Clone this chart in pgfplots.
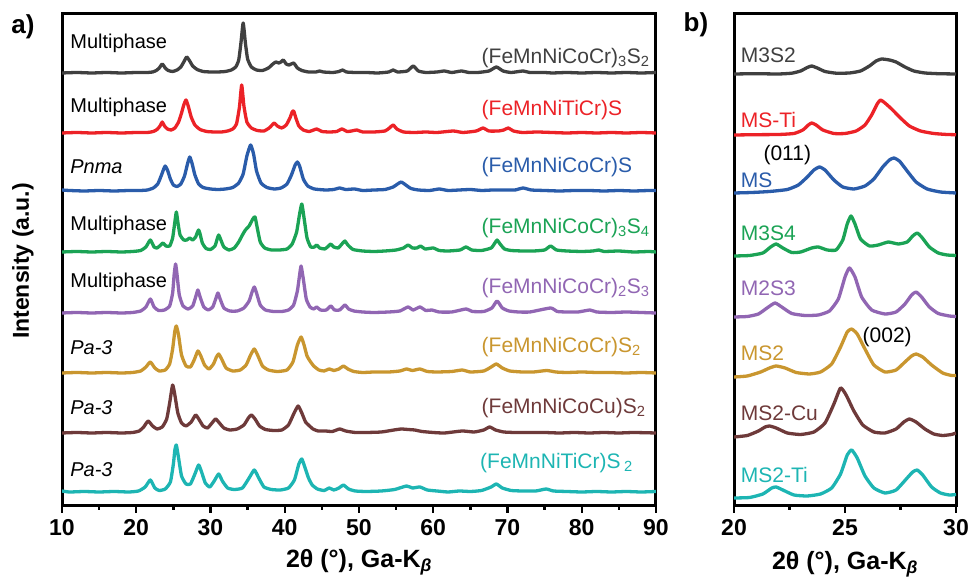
\documentclass[border=0pt]{standalone}
\usepackage{fontspec}
\setmainfont{Liberation Sans}
\usepackage{pgfplots}
\pgfplotsset{compat=1.18}
\newcommand\fs[1]{\fontsize{#1}{#1}\selectfont}

\definecolor{cblack}{HTML}{404040}
\definecolor{cred}{HTML}{EC2227}
\definecolor{cblue}{HTML}{2A5CAA}
\definecolor{cgreen}{HTML}{1BA355}
\definecolor{cpurple}{HTML}{9166B3}
\definecolor{cgold}{HTML}{C9962F}
\definecolor{cbrown}{HTML}{6E3A3A}
\definecolor{ccyan}{HTML}{1DB5B3}

\pgfplotsset{
  xrd/.style={
    scale only axis, height=492pt,
    ymin=0, ymax=492, ytick=\empty,
    xtick pos=bottom, tick align=outside,
    major tick length=7pt, minor tick length=4pt,
    tick style={line width=2.4pt, black},
    axis line style={line width=3pt},
    xticklabel style={font=\bfseries\fs{23}, yshift=-3pt},
    /pgf/number format/assume math mode=true,
    every axis plot/.append style={line width=3.3pt, line join=round, smooth, tension=0.3, mark=none},
  },
}
\tikzset{
  lbl/.style={font=\fs{20}, anchor=west, inner sep=0pt},
  rlbl/.style={font=\fs{21}, anchor=west, inner sep=0pt},
}

\begin{document}
\begin{tikzpicture}
\useasboundingbox (-62pt,-74pt) rectangle (908pt,506pt);

% ---- panel a
\begin{axis}[xrd, width=594pt, xmin=10, xmax=90,
  xtick={10,20,...,90}, minor xtick={15,25,...,85}]
\addplot[cblack] coordinates {(10,433) (12,433.5) (14,433) (16,433.5) (18,433) (20,433.5) (21.5,433.5) (22.2,434) (22.7,435.5) (23.1,438) (23.5,442) (23.9,438) (24.3,435.5) (24.9,434.5) (25.5,436) (26,439) (26.4,444) (26.8,449) (27.2,445) (27.6,440) (28.2,436.5) (29,434.5) (30,434) (31,434) (32,434.5) (32.8,436) (33.4,439) (33.8,446) (34.1,463) (34.4,483) (34.7,463) (35,447) (35.5,439) (36.2,436) (37,435.5) (37.8,438) (38.4,442) (38.8,444) (39.2,443) (39.5,444) (39.8,446) (40.2,442) (40.6,441) (41.2,443) (41.7,438) (42.3,435.5) (43.2,434) (44.2,434) (44.7,435) (45.2,434) (46.5,433.5) (47.3,434.5) (47.8,436) (48.3,434) (49.5,433.5) (51,433.5) (52.5,433) (54,434) (54.6,436) (55.2,434) (56.5,435) (57.3,440) (58,435) (59,433.5) (60.5,434) (61.5,435) (62.5,433.5) (63.8,435) (64.8,433.5) (66,433.5) (67.5,435) (68.5,439) (69.4,435) (70.5,433.5) (72.1,435) (73,433.5) (75,433.5) (76,433) (78,433.5) (80,433) (82,433.5) (84,433) (86,433.5) (88,433) (90,433.5)};
\addplot[cred] coordinates {(10,373) (12,373.5) (14,373) (16,373.5) (18,373) (20,373.5) (21.5,373.5) (22.3,374.5) (22.8,376.5) (23.2,380) (23.5,384) (23.8,380) (24.2,377) (24.7,376) (25.2,378) (25.7,384) (26.1,393) (26.4,401) (26.7,406) (27,400) (27.4,389) (27.9,381) (28.6,376.5) (29.5,374.5) (30.5,374) (31.5,374) (32.3,375) (33,377) (33.5,382) (33.9,399) (34.2,421) (34.5,400) (34.9,384) (35.5,378) (36.3,375.5) (37.2,375) (37.9,378) (38.3,381) (38.6,383) (39,380) (39.6,378) (40.2,381) (40.7,388) (41,394) (41.2,395) (41.5,388) (41.9,380) (42.5,376) (43.3,374.5) (44.3,377) (45,374.5) (46,374) (47,374.5) (47.7,377) (48.4,374.5) (49,375) (49.7,376) (50.5,374) (52,374) (53.5,375) (54.1,378) (54.6,381) (55.1,377) (56,374) (57.5,373.5) (59,374) (60.5,373.5) (62.7,375) (64,373.5) (65.8,375) (66.7,378) (67.5,375) (68.8,375) (69.5,376) (70.1,378) (70.8,375) (72,373.5) (74,374) (76,373.5) (78,373) (80,373.5) (82,373) (84,373.5) (86,373) (88,373.5) (90,373)};
\addplot[cblue] coordinates {(10,316) (11,315.5) (13,315) (15,315.5) (17,315) (19,315.5) (20.5,315.5) (21.5,316) (22.3,318) (22.9,322) (23.4,331) (23.7,337) (23.9,340) (24.2,336) (24.6,327) (25,321) (25.5,319.5) (26,322) (26.5,330) (26.9,342) (27.2,349) (27.5,343) (27.9,331) (28.4,322) (29,318.5) (30,317) (31,316.5) (32,317) (33,318.5) (33.8,323) (34.4,332) (34.9,350) (35.4,361) (35.8,352) (36.2,335) (36.8,323) (37.6,318.5) (38.6,317) (39.5,318) (40.3,322) (40.9,331) (41.4,341) (41.7,344) (42,340) (42.5,327) (43.1,320) (44,317) (45.5,316) (46.6,316.5) (47.4,318) (48.2,316.5) (49.4,317) (50.5,315.5) (52,316) (53.5,316.5) (54.6,319) (55.2,322) (55.7,324) (56.3,321) (57,317.5) (58,316) (59.5,315.5) (60.8,317) (62,315.5) (63.5,316) (65,316.5) (66.5,315.5) (68,316) (69.5,316) (71,316) (72.1,318) (73.2,316) (75,315.5) (77,315) (79,315.5) (81,315.5) (83,315) (85,315.5) (87,315) (89,315.5) (90,315.5)};
\addplot[cgreen] coordinates {(10,254) (12,254.5) (14,254) (16,254.5) (18,254) (19.5,254.5) (20.6,255.5) (21.3,259) (21.9,266) (22.4,259) (22.8,258) (23.3,261) (23.6,263) (24,260) (24.5,260) (24.9,268) (25.2,284) (25.4,294) (25.6,284) (25.9,271) (26.4,266) (26.8,266) (27.2,268) (27.6,266) (28,269) (28.2,273) (28.4,276) (28.6,272) (28.9,263) (29.4,257.5) (30,256.5) (30.6,260) (30.9,267) (31.1,271) (31.4,266) (31.8,259) (32.5,256) (33.2,258) (33.8,264) (34.3,271) (34.7,276) (35.2,280) (35.7,287) (36,289) (36.3,278) (36.7,264) (37.3,258) (38.2,256) (39.3,256) (40.3,257) (41,262) (41.6,274) (42,292) (42.3,302) (42.6,288) (43,268) (43.5,259) (44,259) (44.3,261) (44.7,258) (45.4,257) (45.9,260) (46.2,262) (46.6,259) (47.2,258) (47.7,262) (48.1,265) (48.5,261) (49.2,256.5) (50.5,255) (52,254.5) (53.5,255) (55,256) (56,258) (56.6,261) (57.2,258) (57.8,258) (58.3,260) (58.9,257) (60,258) (60.8,255.5) (62,255) (63.6,256) (64.4,259) (65.2,256) (66.5,255.5) (67.8,258) (68.3,263) (68.6,266) (69,262) (69.6,257) (70.5,255.5) (72,255) (73.5,255) (75,256) (75.8,260) (76.6,256) (78,255) (80,254.5) (81.5,255) (82.3,256) (83,254.5) (85,255) (87,254) (89,254.5) (90,254)};
\addplot[cpurple] coordinates {(10,193) (12,193.5) (14,193) (16,193.5) (18,193) (19.5,193.5) (20.6,195) (21.3,199) (21.9,207) (22.4,199) (23,195.5) (23.8,196) (24.5,200) (24.9,213) (25.1,231) (25.3,242) (25.5,231) (25.8,211) (26.3,200) (27,197) (27.6,200) (28,209) (28.3,216) (28.6,209) (29.1,199) (29.7,196) (30.3,199) (30.7,207) (31,213) (31.3,207) (31.8,198) (32.6,195) (33.6,195) (34.5,198) (35.2,205) (35.6,214) (35.9,219) (36.2,213) (36.7,201) (37.4,196) (38.5,194.5) (39.6,194.5) (40.5,196) (41.2,201) (41.7,215) (42,231) (42.2,240) (42.5,227) (42.9,207) (43.4,199) (43.9,197) (44.3,199) (44.8,196) (45.6,196) (46.2,200) (46.7,196) (47.4,196) (48.1,201) (48.6,197) (49.3,195) (50.5,194) (52,193.5) (54,194) (55.5,195) (56.6,199) (57.3,196) (58.2,199) (59,195.5) (59.8,196) (60.8,194) (62.5,194) (64.4,197) (65.3,194.5) (66.8,194.5) (67.9,198) (68.6,205) (69.3,198) (70.2,195) (71.5,194) (73,194) (75.8,198) (76.7,194.5) (78,194) (79.5,194) (81.1,196) (82,194) (84,193.5) (86,194) (88,193.5) (90,193)};
\addplot[cgold] coordinates {(10,133) (12,133.5) (14,133) (16,133.5) (18,133) (19.5,133.5) (20.6,135) (21.3,139) (21.9,144) (22.5,138) (23.1,135) (23.9,136) (24.5,142) (24.9,157) (25.2,175) (25.4,180) (25.7,171) (26.1,151) (26.7,140) (27.3,139) (27.8,146) (28.3,155) (28.7,150) (29.2,141) (29.8,137) (30.4,142) (30.8,149) (31.1,152) (31.5,147) (32.1,138) (33,135) (34,136) (34.8,141) (35.4,151) (35.9,157) (36.4,150) (37,140) (37.8,136) (39,134.5) (40.3,136) (41.1,144) (41.7,161) (42.2,169) (42.6,161) (43,150) (43.4,145) (43.9,140) (44.6,136) (45.3,135) (46,137) (46.6,135.5) (47.3,137) (47.9,140) (48.5,137) (49.3,134.5) (50.5,133.5) (52,134) (54,134) (55.5,135) (56.4,137) (57.2,135.5) (58.2,137) (59.2,134.5) (60.5,134) (62.5,134.5) (63.9,136) (65,134) (66.8,135) (67.8,139) (68.5,142) (69.3,138) (70.3,135) (72,134) (73.5,134) (75.3,135.5) (76.5,134) (78,133.5) (80,134) (82,133.5) (84,133.5) (86,133) (88,133.5) (90,133)};
\addplot[cbrown] coordinates {(10,73) (12,73.5) (14,73) (16,73.5) (18,73) (19.5,73.5) (20.4,75) (21,79) (21.6,85) (22.2,80) (22.8,77) (23.5,79) (24.1,87) (24.5,103) (24.9,121) (25.2,111) (25.6,93) (26.1,83) (26.7,80) (27.4,84) (28,91) (28.5,86) (29,80) (29.6,78) (30.2,83) (30.7,87) (31.2,83) (31.8,78) (32.6,76) (33.6,77) (34.5,81) (35.1,88) (35.5,91) (36,87) (36.6,80) (37.4,76.5) (38.5,75.5) (39.6,76) (40.5,81) (41.2,92) (41.8,100) (42.3,93) (42.8,84) (43.2,81) (43.8,77) (44.5,75) (45.5,75) (46.4,74.5) (47.4,77) (48.2,75) (49.5,73.5) (51,73.5) (53,74) (54.7,76) (55.7,77) (56.6,76.5) (57.5,76) (58.5,74.5) (60,73.5) (61.5,73) (63.9,75) (65.5,74) (66.8,76) (67.6,79) (68.4,76) (69.5,74) (71,73.5) (73,73.5) (75,73.5) (77,73) (79,73.5) (81,73) (83,73.5) (85,73) (87,73.5) (90,73)};
\addplot[ccyan] coordinates {(10,15) (11,14) (13,14.5) (15,14) (17,14.5) (19,14) (20.3,15) (21.2,19) (21.9,26) (22.5,18) (23.1,15.5) (23.9,17) (24.6,24) (25,42) (25.2,56) (25.4,61) (25.7,48) (26.1,30) (26.7,22) (27.3,22) (27.9,32) (28.4,41) (28.8,34) (29.3,23) (29.9,19) (30.5,25) (31.1,32) (31.6,25) (32.3,18) (33.2,16.5) (34.3,18) (35.2,28) (35.9,36) (36.5,28) (37.2,19) (38.2,16.5) (39.4,16) (40.5,18) (41.3,26) (41.9,42) (42.3,47) (42.7,39) (43.2,28) (43.7,21) (44.4,17) (45.3,15.5) (46,18) (46.6,16) (47.3,18) (47.9,21) (48.6,17) (49.5,15) (51,14.5) (53,15) (54.8,16.5) (56.4,20) (57.2,18) (58.2,19) (59.2,16) (60.5,15) (62,14) (63.5,15) (65,14.5) (66.5,15.5) (67.8,19) (68.5,22) (69.3,18) (70.5,15.5) (72,15) (73.8,15) (75.2,17) (76.2,15) (78,14.5) (80,14) (82,14.5) (84,14) (86,14.5) (88,14) (90,14.5)};

\node[lbl] at (axis cs:11.1,463) {Multiphase};
\node[lbl] at (axis cs:11.1,399) {Multiphase};
\node[lbl] at (axis cs:11.1,339) {\itshape Pnma};
\node[lbl] at (axis cs:11.1,281) {Multiphase};
\node[lbl] at (axis cs:11.1,224) {Multiphase};
\node[lbl] at (axis cs:11.1,158) {\itshape Pa-3};
\node[lbl] at (axis cs:11.1,98) {\itshape Pa-3};
\node[lbl] at (axis cs:11.1,36) {\itshape Pa-3};

\node[rlbl, text=cblack] at (axis cs:66.5,448) {(FeMnNiCoCr)\textsubscript{3}S\textsubscript{2}};
\node[rlbl, text=cred] at (axis cs:66.5,396) {(FeMnNiTiCr)S};
\node[rlbl, text=cblue] at (axis cs:66.5,339) {(FeMnNiCoCr)S};
\node[rlbl, text=cgreen] at (axis cs:66.5,278) {(FeMnNiCoCr)\textsubscript{3}S\textsubscript{4}};
\node[rlbl, text=cpurple] at (axis cs:66.5,218) {(FeMnNiCoCr)\textsubscript{2}S\textsubscript{3}};
\node[rlbl, text=cgold] at (axis cs:66.5,159) {(FeMnNiCoCr)S\textsubscript{2}};
\node[rlbl, text=cbrown] at (axis cs:66.5,98) {(FeMnNiCoCu)S\textsubscript{2}};
\node[rlbl, text=ccyan] at (axis cs:66.3,43) {(FeMnNiTiCr)S\,\textsubscript{2}};
\end{axis}

% ---- panel b
\begin{axis}[xrd, width=222pt, at={(672pt,0pt)}, anchor=south west,
  xmin=20, xmax=30, xtick={20,25,30}, minor xtick={22.5,27.5}]
\addplot[cblack] coordinates {(20,432) (21,432.3) (22,432) (22.6,432.8) (23,435) (23.3,438.5) (23.5,440) (23.75,438) (24.1,434.5) (24.6,432.8) (25.2,433) (25.7,435) (26.1,440) (26.4,445) (26.65,447) (27,446) (27.3,444) (27.7,439) (28.1,435) (28.6,433) (29.2,432.3) (30,432)};
\addplot[cred] coordinates {(20,371) (21,371.3) (22,371.5) (22.7,372.5) (23.1,376) (23.35,381) (23.5,383) (23.7,381) (24,376) (24.5,372.5) (25,372.5) (25.5,375) (25.9,381) (26.2,391) (26.45,402) (26.6,406) (26.8,403) (27.1,397) (27.5,388) (27.9,380) (28.4,375) (29,372.5) (29.6,371.5) (30,371.3)};
\addplot[cblue] coordinates {(20,313) (20.8,313.5) (21.6,314.5) (22.4,316.5) (22.9,321) (23.3,329) (23.6,336) (23.85,339) (24.1,336) (24.5,326) (24.9,319) (25.4,317) (25.9,320) (26.3,327) (26.7,339) (27,346) (27.2,348) (27.45,345) (27.8,335) (28.2,324) (28.7,317) (29.3,314) (30,313)};
\addplot[cgreen] coordinates {(20,250) (20.7,250.5) (21.3,253) (21.65,259) (21.9,262) (22.2,258) (22.6,253.5) (23,254) (23.5,258) (23.8,259) (24.2,256) (24.6,256) (24.9,266) (25.1,282) (25.27,290) (25.45,282) (25.7,267) (26.1,260) (26.5,261) (26.95,264) (27.4,262) (27.8,264) (28.05,270) (28.25,273) (28.45,269) (28.8,259) (29.2,253) (29.6,251) (30,250.5)};
\addplot[cpurple] coordinates {(20,189) (20.6,189.5) (21.1,192) (21.55,199) (21.85,203) (22.15,199) (22.6,192.5) (23.2,190.5) (23.8,191) (24.3,195) (24.7,207) (25,229) (25.2,238) (25.45,229) (25.75,209) (26.2,196) (26.8,192) (27.3,194) (27.7,202) (28,211) (28.2,214) (28.45,209) (28.8,199) (29.2,192.5) (29.7,190) (30,189.5)};
\addplot[cgold] coordinates {(20,129) (20.6,130) (21.2,134) (21.6,138) (21.9,140) (22.3,138) (22.8,133.5) (23.4,132) (23.9,134) (24.4,142) (24.8,159) (25.1,174) (25.3,177) (25.55,172) (25.9,157) (26.3,141) (26.8,134) (27.3,136) (27.7,144) (28,150) (28.2,152) (28.5,149) (28.9,141) (29.4,133) (29.8,130.5) (30,130.5)};
\addplot[cbrown] coordinates {(20,69) (20.6,70.5) (21.1,75) (21.4,79) (21.6,80) (21.9,78) (22.4,73) (23,71.5) (23.6,74) (24.1,83) (24.5,102) (24.8,118) (25.05,111) (25.4,95) (25.8,81) (26.3,74) (26.8,73) (27.3,77) (27.65,84) (27.9,87) (28.2,84) (28.6,77) (29,72) (29.4,70.5) (29.8,71.5) (30,73)};
\addplot[ccyan] coordinates {(20,8) (20.7,8.5) (21.3,12) (21.7,18) (21.9,19) (22.2,16) (22.7,11) (23.3,10) (23.9,12) (24.4,18) (24.8,32) (25.1,51) (25.3,56) (25.55,48) (25.9,30) (26.3,18) (26.8,13) (27.3,16) (27.8,28) (28.05,34) (28.25,36) (28.5,31) (28.9,19) (29.3,13) (29.7,11) (30,11.5)};

\node[rlbl, text=cblack] at (axis cs:20.3,451) {M3S2};
\node[rlbl, text=cred] at (axis cs:20.3,386) {MS-Ti};
\node[rlbl, text=cblue] at (axis cs:20.3,326) {MS};
\node[rlbl, text=cgreen] at (axis cs:20.3,273) {M3S4};
\node[rlbl, text=cpurple] at (axis cs:20.3,218) {M2S3};
\node[rlbl, text=cgold] at (axis cs:20.3,153) {MS2};
\node[rlbl, text=cbrown] at (axis cs:20.3,93) {MS2-Cu};
\node[rlbl, text=ccyan] at (axis cs:20.3,31) {MS2-Ti};
\node[font=\fs{21}, inner sep=0pt] at (axis cs:22.4,351) {(011)};
\node[font=\fs{21}, inner sep=0pt] at (axis cs:26.9,169) {(002)};
\end{axis}

% ---- titles and axis labels
\node[font=\bfseries\fs{26}] at (-39pt,479pt) {a)};
\node[font=\bfseries\fs{26}] at (634pt,481pt) {b)};
\node[font=\bfseries\fs{23}, rotate=90] at (-39pt,245pt) {Intensity (a.u.)};
\node[font=\bfseries\fs{25}] at (297pt,-56pt) {2θ (°), Ga-K\textsubscript{\itshape β}};
\node[font=\bfseries\fs{25}] at (783pt,-58pt) {2θ (°), Ga-K\textsubscript{\itshape β}};
\end{tikzpicture}
\end{document}
